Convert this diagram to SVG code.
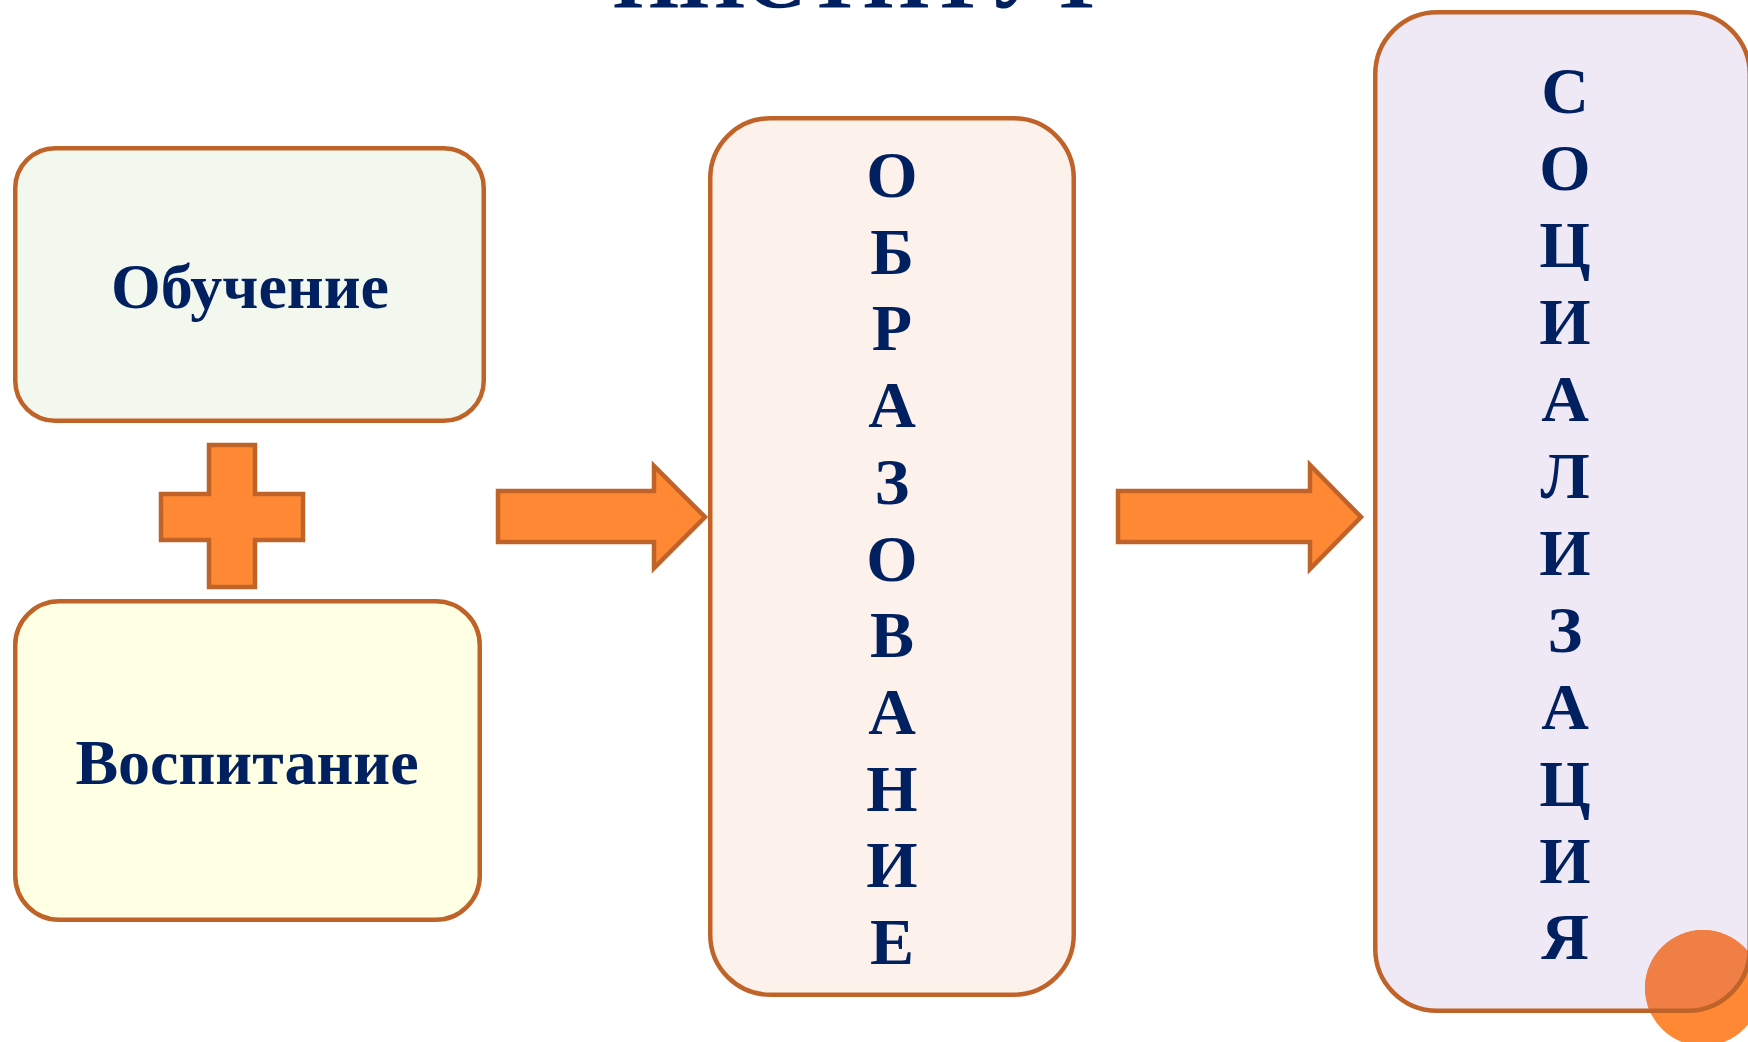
<svg xmlns="http://www.w3.org/2000/svg" width="1748" height="1042" viewBox="0 0 1748 1042">
<defs>
<style>
.box{stroke:#BF6329;stroke-width:4.5}
.shape{fill:#FF8835;stroke:#BF6329;stroke-width:4.5;stroke-linejoin:miter}
.t{font-family:"Liberation Serif","Times New Roman",serif;font-weight:bold;fill:#00205F;text-anchor:middle}
.lbl{font-size:64px}
.v{font-size:66px}
</style>
<clipPath id="b3clip"><rect x="1375.25" y="12.25" width="374.5" height="998.5" rx="62"/></clipPath>
</defs>
<rect width="1748" height="1042" fill="#FFFFFF"/>
<g id="title"><text class="t" x="859" y="8" font-size="85">ИНСТИТУТ</text></g>
<g id="obuchenie">
<rect class="box" x="15.25" y="148.25" width="468.5" height="272.5" rx="40" fill="#F3F8EE"/>
<text class="t lbl" x="250" y="308">Обучение</text>
</g>
<g id="vospitanie">
<rect class="box" x="15.25" y="601.25" width="464.5" height="318.5" rx="44" fill="#FFFFE4"/>
<text class="t lbl" x="247" y="784">Воспитание</text>
</g>
<g id="plus">
<path class="shape" d="M209,445 H255 V494 H303 V540 H255 V587 H209 V540 H161 V494 H209 Z"/>
</g>
<g id="obrazovanie">
<rect class="box" x="710.25" y="118.25" width="363.5" height="876.5" rx="60" fill="#FCF2EB"/>
<g class="t v">
<text x="892" y="197">О</text>
<text x="892" y="274">Б</text>
<text x="892" y="350">Р</text>
<text x="892" y="427">А</text>
<text x="892" y="504">З</text>
<text x="892" y="581">О</text>
<text x="892" y="657">В</text>
<text x="892" y="734">А</text>
<text x="892" y="811">Н</text>
<text x="892" y="887">И</text>
<text x="892" y="964">Е</text>
</g>
</g>
<g id="socializaciya">
<rect x="1375.25" y="12.25" width="374.5" height="998.5" rx="62" fill="#EFE9F5"/>
<circle cx="1703" cy="988" r="58" fill="#FF8835"/>
<circle cx="1703" cy="988" r="58" fill="#EF7F45" clip-path="url(#b3clip)"/>
<rect class="box" x="1375.25" y="12.25" width="374.5" height="998.5" rx="62" fill="none"/>
<g class="t v">
<text x="1565" y="113">С</text>
<text x="1565" y="190">О</text>
<text x="1565" y="267">Ц</text>
<text x="1565" y="344">И</text>
<text x="1565" y="421">А</text>
<text x="1565" y="498">Л</text>
<text x="1565" y="575">И</text>
<text x="1565" y="652">З</text>
<text x="1565" y="729">А</text>
<text x="1565" y="806">Ц</text>
<text x="1565" y="883">И</text>
<text x="1565" y="959">Я</text>
</g>
</g>
<g id="connectors">
<path class="shape" d="M498,491 H654 V466 L705,517 L654,568 V542 H498 Z"/>
<path class="shape" d="M1118,491 H1310 V465 L1361,517 L1310,569 V542 H1118 Z"/>
</g>
</svg>
